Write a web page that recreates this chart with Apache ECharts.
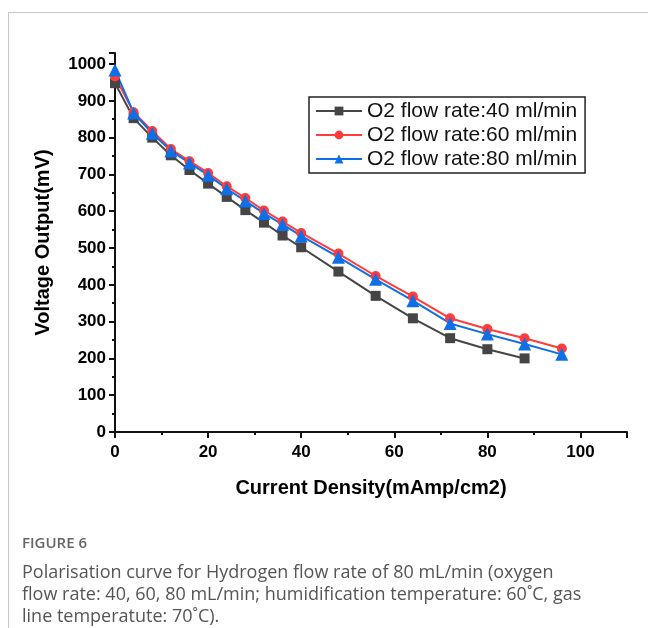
<!DOCTYPE html>
<html>
<head>
<meta charset="utf-8">
<script src="https://cdn.jsdelivr.net/npm/echarts@6/dist/echarts.min.js"></script>
<style>
  html, body { margin: 0; padding: 0; background: #fff; }
  #frame { position: absolute; left: 8px; top: 12px; width: 640px; height: 616px;
           border-top: 1px solid #c8c8c8; border-left: 1px solid #c8c8c8; }
  #chart { position: absolute; left: 0; top: 0; width: 648px; height: 628px; }
</style>
</head>
<body>
<div id="frame"></div>
<div id="chart"></div>
<script>
// current density (mAmp/cm2)
const density = [0, 4, 8, 12, 16, 20, 24, 28, 32, 36, 40, 48, 56, 64, 72, 80, 88, 96];
// voltage output (mV) per O2 flow rate
const flow40 = [948, 853, 800, 752, 712, 675, 639, 603, 569, 534, 502, 436, 370, 309, 255, 225, 200];
const flow60 = [966, 869, 818, 769, 736, 704, 668, 636, 602, 572, 541, 485, 424, 368, 309, 280, 255, 227];
const flow80 = [984, 867, 812, 764, 731, 698, 661, 628, 594, 564, 533, 475, 415, 357, 295, 266, 239, 211];
const seriesNames = ["O2 flow rate:40 ml/min", "O2 flow rate:60 ml/min", "O2 flow rate:80 ml/min"];
const captionLines = [
  "Polarisation curve for Hydrogen flow rate of 80 mL/min (oxygen",
  "flow rate: 40, 60, 80 mL/min; humidification temperature: 60˚C, gas",
  "line temperatute: 70˚C)."
];

const pairs = ys => ys.map((v, i) => [density[i], v]);
const font = "Liberation Sans, Arial, sans-serif";

const c = echarts.init(document.getElementById("chart"));
const axisCommon = {
  axisLine: { lineStyle: { color: "#111", width: 2 } },
  axisTick: { inside: false, length: 6, lineStyle: { color: "#111", width: 2 } },
  minorTick: { show: true, splitNumber: 2, length: 3, lineStyle: { color: "#111", width: 2 } },
  splitLine: { show: false },
  axisLabel: { color: "#000", fontFamily: font, fontWeight: "bold", fontSize: 17,
               showMaxLabel: false, formatter: v => String(v) },
  nameLocation: "middle",
  nameTextStyle: { color: "#000", fontFamily: font, fontWeight: "bold", fontSize: 20 }
};

const mk = (name, data, color, symbol, size) => ({
  name, type: "line", data: pairs(data), symbol, symbolSize: size,
  lineStyle: { color, width: 2 }, itemStyle: { color }, z: 3
});

c.setOption({
  animation: false,
  grid: { left: 115, right: 21, top: 53, bottom: 196 },
  xAxis: Object.assign({}, axisCommon, {
    type: "value", min: 0, max: 110, interval: 20,
    name: "Current Density(mAmp/cm2)", nameGap: 46,
    axisLabel: Object.assign({}, axisCommon.axisLabel, { margin: 12 })
  }),
  yAxis: Object.assign({}, axisCommon, {
    type: "value", min: 0, max: 1030, interval: 100,
    name: "Voltage Output(mV)", nameGap: 62,
    axisLabel: Object.assign({}, axisCommon.axisLabel, { margin: 9 })
  }),
  legend: {
    orient: "vertical", left: 309, top: 97,
    borderColor: "#222", borderWidth: 1.5, padding: [3, 8, 3, 6],
    itemGap: 2, itemWidth: 46, itemHeight: 11,
    textStyle: { color: "#111", fontFamily: font, fontSize: 21, lineHeight: 22 },
    data: seriesNames
  },
  series: [
    mk(seriesNames[0], flow40, "#454545", "rect", 10),
    mk(seriesNames[1], flow60, "#ff3b3b", "circle", 10),
    mk(seriesNames[2], flow80, "#0f6fe6", "triangle", 13)
  ],
  graphic: [
    { type: "text", left: 22, top: 536,
      style: { text: "FIGURE 6", fill: "#666", font: "600 15px 'Open Sans', sans-serif" } },
    { type: "text", left: 22, top: 562,
      style: { text: captionLines.join("\n"), fill: "#555", lineHeight: 22,
               font: "18px 'Open Sans', sans-serif" } }
  ]
});
</script>
</body>
</html>
